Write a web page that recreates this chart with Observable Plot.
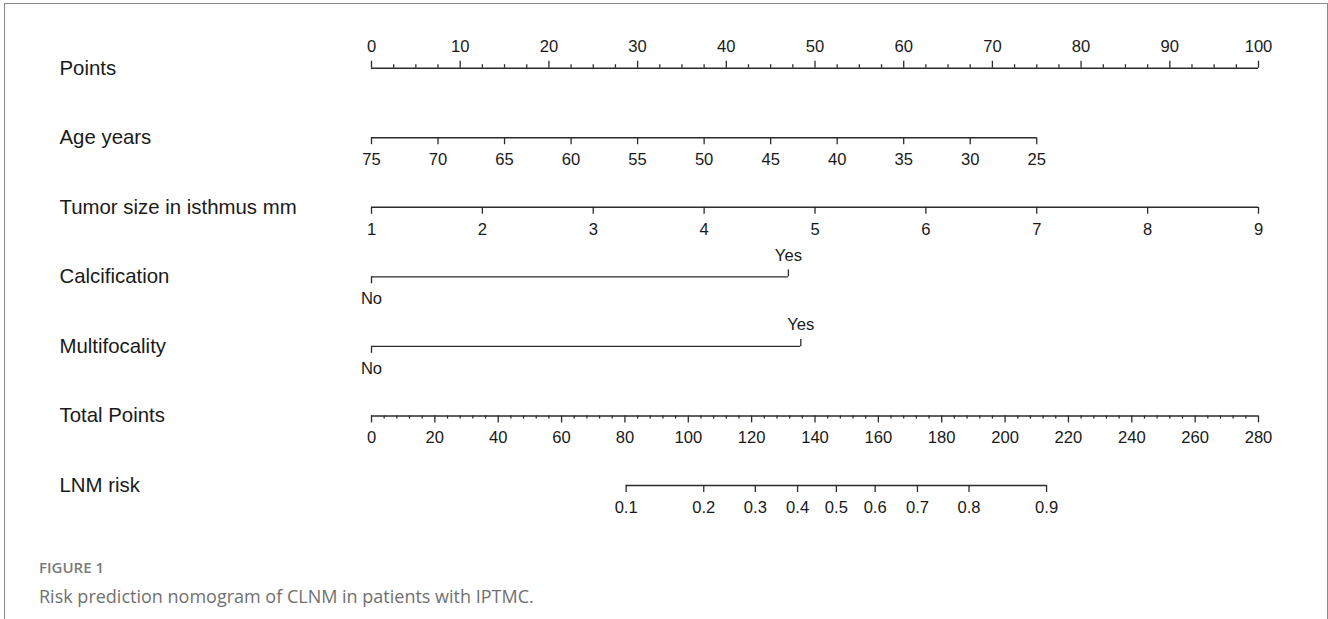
<!DOCTYPE html>
<html>
<head>
<meta charset="utf-8">
<script src="https://cdn.jsdelivr.net/npm/d3@7"></script>
<script src="https://cdn.jsdelivr.net/npm/@observablehq/plot@0.6"></script>
<style>
  html, body { margin: 0; padding: 0; background: #fff; }
  body { width: 1328px; height: 619px; position: relative; overflow: hidden; }
  #frame { position: absolute; left: 4px; top: 3px; width: 1322px; height: 640px;
           border: 1px solid #8a8a8a; border-bottom: none; }
  #chart { position: absolute; left: 0; top: 0; }
  #figlabel { position: absolute; left: 39px; top: 557px; font-family: "Open Sans", sans-serif;
              font-size: 15px; font-weight: 600; color: #7a7a7a; }
  #caption { position: absolute; left: 39px; top: 584px; font-family: "Open Sans", sans-serif;
             font-size: 18px; color: #707070; }
</style>
</head>
<body>
<div id="frame"></div>
<div id="chart"></div>
<div id="figlabel">FIGURE 1</div>
<div id="caption">Risk prediction nomogram of CLNM in patients with IPTMC.</div>
<script>
// ---- data ----
const rowLabels = ["Points", "Age years", "Tumor size in isthmus mm", "Calcification", "Multifocality", "Total Points", "LNM risk"];

const pointsTicks = [0, 10, 20, 30, 40, 50, 60, 70, 80, 90, 100];
const pointsMinorStep = 2.5;

const ageTicks = [75, 70, 65, 60, 55, 50, 45, 40, 35, 30, 25];
const agePointsPerYear = 1.5;      // 75 yrs -> 0 pts, 25 yrs -> 75 pts

const tumorTicks = [1, 2, 3, 4, 5, 6, 7, 8, 9];
const tumorPointsPerMm = 12.5;     // 1 mm -> 0 pts, 9 mm -> 100 pts

const calcLevels = ["No", "Yes"];
const calcPoints = [0, 47];

const multiLevels = ["No", "Yes"];
const multiPoints = [0, 48.4];

const totalTicks = [0, 20, 40, 60, 80, 100, 120, 140, 160, 180, 200, 220, 240, 260, 280];
const totalMinorStep = 4;
const totalMax = 280;

const riskTicks = [0.1, 0.2, 0.3, 0.4, 0.5, 0.6, 0.7, 0.8, 0.9];
const riskCenterTotal = 146.75;    // total points at risk 0.5
const riskSlope = 30.2;            // total points per logit unit

// ---- conversions to the common "points" x scale ----
const ageToPts = a => (75 - a) * agePointsPerYear;
const tumorToPts = s => (s - 1) * tumorPointsPerMm;
const totalToPts = t => t * 100 / totalMax;
const riskToPts = p => totalToPts(riskCenterTotal + riskSlope * Math.log(p / (1 - p)));

// build tables
const axes = [];      // axis lines
const ticks = [];     // tick marks
const labels = [];    // tick labels
const MAJ = 0.1, MIN = 0.05;

// Points (row 0) - ticks up, labels above
axes.push({row: 0, x1: 0, x2: 100});
for (let v = 0; v <= 100 + 1e-9; v += pointsMinorStep) {
  const major = pointsTicks.includes(v);
  ticks.push({row: 0, x: v, len: -(major ? MAJ : MIN)});
}
pointsTicks.forEach(v => labels.push({row: 0, x: v, text: String(v), dir: -1}));

// Age (row 1)
axes.push({row: 1, x1: ageToPts(ageTicks[0]), x2: ageToPts(ageTicks[ageTicks.length - 1])});
ageTicks.forEach(a => { ticks.push({row: 1, x: ageToPts(a), len: MAJ}); labels.push({row: 1, x: ageToPts(a), text: String(a), dir: 1}); });

// Tumor (row 2)
axes.push({row: 2, x1: tumorToPts(tumorTicks[0]), x2: tumorToPts(tumorTicks[tumorTicks.length - 1])});
tumorTicks.forEach(s => { ticks.push({row: 2, x: tumorToPts(s), len: MAJ}); labels.push({row: 2, x: tumorToPts(s), text: String(s), dir: 1}); });

// Calcification (row 3), Multifocality (row 4)
[[3, calcLevels, calcPoints], [4, multiLevels, multiPoints]].forEach(([row, lv, pts]) => {
  axes.push({row, x1: pts[0], x2: pts[1]});
  lv.forEach((l, i) => {
    const dir = i === 0 ? 1 : -1;
    ticks.push({row, x: pts[i], len: dir * MAJ});
    labels.push({row, x: pts[i], text: l, dir});
  });
});

// Total points (row 5)
axes.push({row: 5, x1: 0, x2: 100});
for (let t = 0; t <= totalMax; t += totalMinorStep) {
  const major = totalTicks.includes(t);
  ticks.push({row: 5, x: totalToPts(t), len: major ? MAJ : MIN * 0.9});
}
totalTicks.forEach(t => labels.push({row: 5, x: totalToPts(t), text: String(t), dir: 1}));

// LNM risk (row 6)
axes.push({row: 6, x1: riskToPts(riskTicks[0]), x2: riskToPts(riskTicks[riskTicks.length - 1])});
riskTicks.forEach(p => { ticks.push({row: 6, x: riskToPts(p), len: MAJ}); labels.push({row: 6, x: riskToPts(p), text: String(p), dir: 1}); });

const ink = "#2b2b2b";
const font = "'Liberation Sans', Arial, Helvetica, sans-serif";

const chart = Plot.plot({
  width: 1328,
  height: 530,
  marginLeft: 371,
  marginRight: 70,
  marginTop: 0,
  marginBottom: 0,
  style: {fontFamily: font, background: "transparent", overflow: "visible"},
  x: {domain: [0, 100], axis: null},
  y: {domain: [0, 6], range: [67.7, 485], axis: null},
  marks: [
    Plot.text(rowLabels, {y: (d, i) => i, text: d => d, frameAnchor: "left", dx: -312,
      textAnchor: "start", fontSize: 20.4, fill: "#1a1a1a"}),
    Plot.ruleY(axes, {y: "row", x1: "x1", x2: "x2", stroke: ink, strokeWidth: 1.4}),
    Plot.ruleX(ticks, {x: "x", y1: "row", y2: d => d.row + d.len, stroke: ink, strokeWidth: 1.3}),
    Plot.text(labels.filter(d => d.dir < 0), {x: "x", y: "row", text: "text", dy: -21.5,
      fontSize: 16.6, fill: "#1a1a1a", lineAnchor: "middle"}),
    Plot.text(labels.filter(d => d.dir > 0), {x: "x", y: "row", text: "text", dy: 22,
      fontSize: 16.6, fill: "#1a1a1a", lineAnchor: "middle"})
  ]
});
document.getElementById("chart").appendChild(chart);
</script>
</body>
</html>
